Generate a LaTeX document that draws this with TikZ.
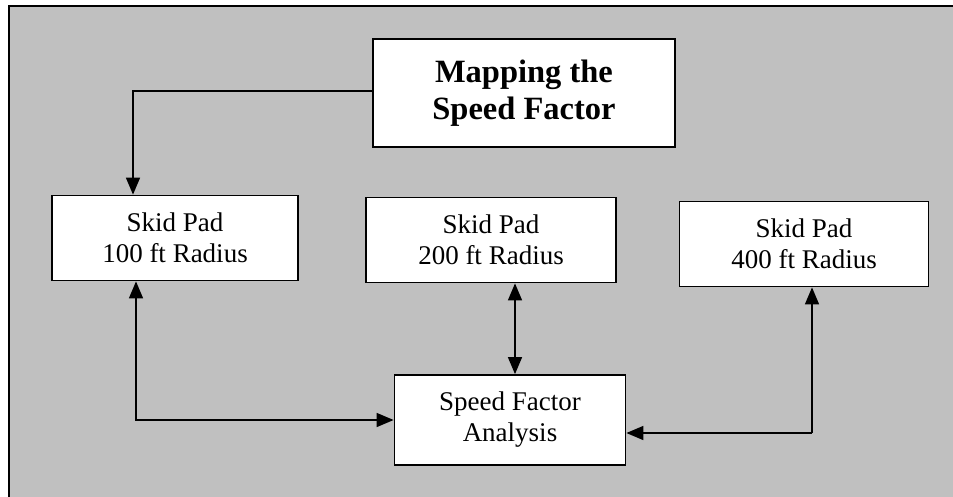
\documentclass[tikz,border=0pt]{standalone}
\usepackage{fontspec}
\setmainfont{Liberation Serif}
\usetikzlibrary{arrows.meta}
\definecolor{panel}{RGB}{192,192,192}
\tikzset{
    pad/.style={draw, fill=white, line width=1.8pt, align=center,
        font=\fontsize{27}{31}\selectfont, inner sep=0pt},
    tip/.tip={Triangle[length=17pt,width=14pt]},
    link/.style={line width=1.5pt, -tip},
    both/.style={line width=1.5pt, tip-tip}
}
\begin{document}
\begin{tikzpicture}[x=1pt, y=-1pt]
    \useasboundingbox (0,0) rectangle (953,496);
    % Background panel
    \fill[white] (0,0) rectangle (953,496);
    \fill[panel] (9,6) rectangle (960,500);
    \draw[line width=2pt] (9,505) |- (960,6);

    % Boxes
    \node[pad, font=\bfseries\fontsize{32.5}{37}\selectfont,
        minimum width=302pt, minimum height=108pt] (title) at (524,93)
        {Mapping the\\Speed Factor};
    \node[pad, minimum width=246pt, minimum height=85pt] (pad1) at (175,238)
        {Skid Pad\\100 ft Radius};
    \node[pad, minimum width=250pt, minimum height=85pt] (pad2) at (491,240)
        {Skid Pad\\200 ft Radius};
    \node[pad, minimum width=249pt, minimum height=85pt] (pad4) at (804,244)
        {Skid Pad\\400 ft Radius};
    \node[pad, minimum width=231pt, minimum height=90pt] (sfa) at (510,420)
        {Speed Factor\\Analysis};

    % Arrows
    \coordinate (c1) at (133,91);
    \coordinate (c2) at (515,0);
    \coordinate (c4) at (812,433);
    \draw[link] (title.west |- c1) -| (pad1.north -| c1);
    \draw[both] ([xshift=-39pt]pad1.south) |- (sfa.west);
    \draw[both] (pad2.south -| c2) -- (sfa.north -| c2);
    \draw[link] (c4) -- (sfa.east |- c4);
    \draw[link] (c4) -- (pad4.south -| c4);
\end{tikzpicture}
\end{document}
